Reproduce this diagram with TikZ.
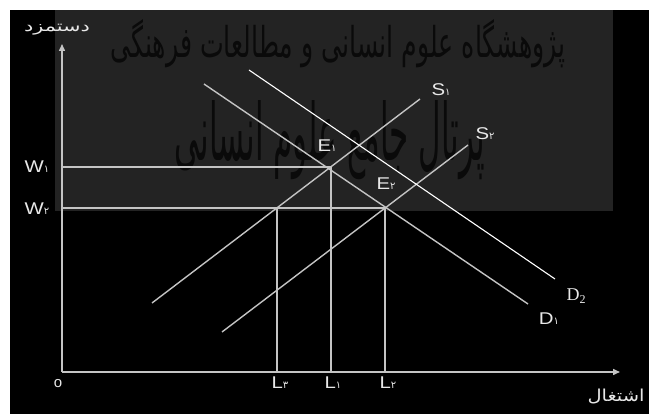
\documentclass[tikz,border=0pt]{standalone}
\usepackage{fontspec}
\usepackage{graphicx}
\setmainfont{Liberation Sans}
\newfontfamily\widefont[FakeStretch=1.2]{Liberation Sans}
\newfontfamily\arabicfont[Script=Arabic]{DejaVu Sans}
\newfontfamily\seriffont{Liberation Serif}
\TeXXeTstate=1
\usetikzlibrary{arrows.meta}
\definecolor{wmgray}{HTML}{232323}
\definecolor{linegray}{HTML}{C4C4C4}
\definecolor{wmtext}{HTML}{0A0A0A}
\definecolor{labelwhite}{HTML}{E8E8E8}
\newcommand{\pd}[1]{{\arabicfont\fontsize{10}{10}\selectfont #1}}
\begin{document}
\begin{tikzpicture}[x=1pt,y=-1pt,
  curve/.style={draw=linegray,line width=1.4pt},
  axisline/.style={draw=linegray,line width=1.5pt,-{Triangle[length=7pt,width=6pt]}},
  demand2/.style={draw=white,line width=1.1pt},
  lbl/.style={text=labelwhite,font=\widefont\fontsize{17}{17}\selectfont,inner sep=0pt},
  wm/.style={text=wmtext,inner sep=0pt}]
% background
\useasboundingbox (0,0) rectangle (649,414);
\fill[white] (0,0) rectangle (649,414);
\fill[black] (10,10) rectangle (649,414);
\fill[wmgray] (55,10) rectangle (613,211);
% watermark text
\node[wm] (wm1) at (338,44) {\resizebox{455pt}{38pt}{\arabicfont\beginR پژوهشگاه علوم انسانی و مطالعات فرهنگی\endR}};
\node[wm] (wm2) at (330,140) {\resizebox{310pt}{60pt}{\arabicfont\beginR پرتال جامع علوم انسانی\endR}};
% key points
\coordinate (O) at (62,372);
\coordinate (ytip) at (62,44);
\coordinate (xtip) at (620,372);
\coordinate (E1) at (331,167);
\coordinate (E2) at (385,208);
\coordinate (W1) at (62,167);
\coordinate (W2) at (62,208);
\coordinate (P3) at (277,208);
\coordinate (L3b) at (277,372);
\coordinate (L1b) at (331,372);
\coordinate (L2b) at (385,372);
\coordinate (S1a) at (152,303);
\coordinate (S1b) at (420,99);
\coordinate (S2a) at (222,332);
\coordinate (S2b) at (468,145);
\coordinate (D1a) at (204,84);
\coordinate (D1b) at (528,304);
\coordinate (D2a) at (249,70);
\coordinate (D2b) at (555,279);
% guide lines
\draw[curve] (W1) -- (E1);
\draw[curve] (W2) -- (E2);
\draw[curve] (P3) -- (L3b);
\draw[curve] (E1) -- (L1b);
\draw[curve] (E2) -- (L2b);
% curves
\draw[curve] (S1a) -- (S1b);
\draw[curve] (S2a) -- (S2b);
\draw[curve] (D1a) -- (D1b);
\draw[demand2] (D2a) -- (D2b);
% axes
\draw[axisline] (O) -- (ytip);
\draw[axisline] (O) -- (xtip);
% labels
\node[lbl] (lW1) at (37,167) {W\pd{۱}};
\node[lbl] (lW2) at (37,209) {W\pd{۲}};
\node[lbl] (lE1) at (327,146) {E\pd{۱}};
\node[lbl] (lE2) at (386,184) {E\pd{۲}};
\node[lbl] (lS1) at (441,90) {S\pd{۱}};
\node[lbl] (lS2) at (485,134) {S\pd{۲}};
\node[lbl] (lD1) at (549,319) {D\pd{۱}};
\node[text=labelwhite,inner sep=0pt] (lD2) at (576,296) {\seriffont\fontsize{18}{18}\selectfont D\raisebox{-3pt}{\fontsize{12}{12}\selectfont 2}};
\node[lbl] (lL3) at (280,383) {L\pd{۳}};
\node[lbl] (lL1) at (333,383) {L\pd{۱}};
\node[lbl] (lL2) at (388,383) {L\pd{۲}};
\node[lbl,font=\fontsize{15}{15}\selectfont] (lO) at (58,384) {o};
\node[text=labelwhite,inner sep=0pt] (ylab) at (57,30) {\resizebox*{66pt}{11pt}{\arabicfont\beginR دستمزد\endR}};
\node[text=labelwhite,inner sep=0pt] (xlab) at (616,397) {\resizebox*{57pt}{15pt}{\arabicfont\beginR اشتغال\endR}};
\end{tikzpicture}
\end{document}
